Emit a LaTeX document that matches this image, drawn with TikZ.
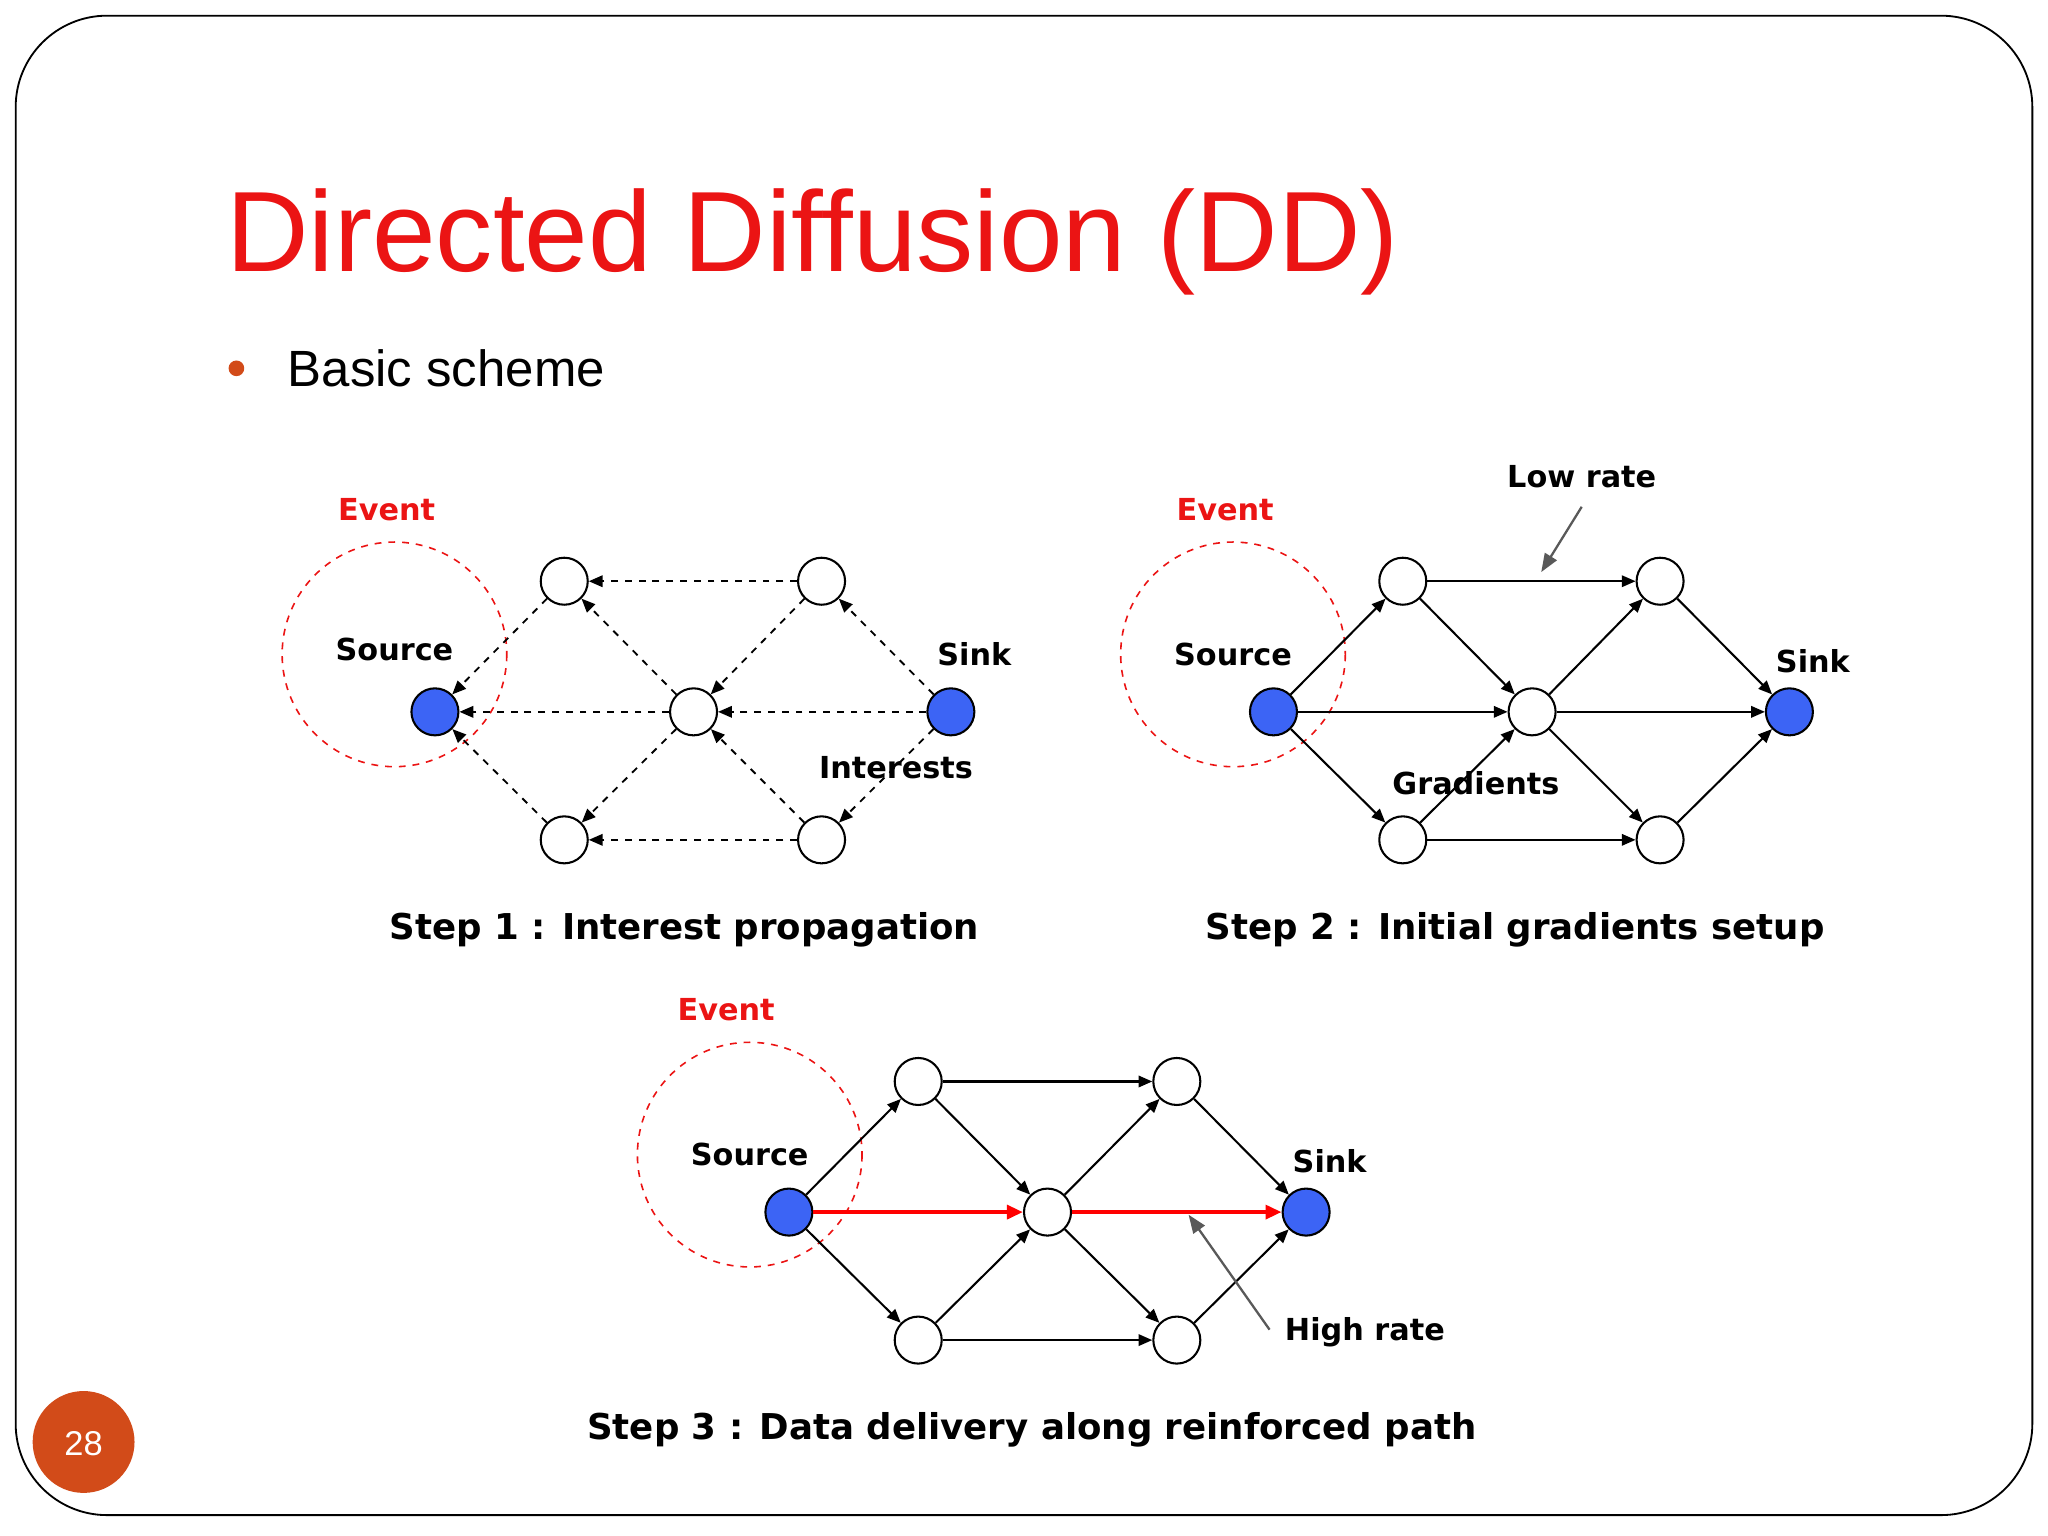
\documentclass[tikz,border=0pt]{standalone}
\usepackage{fontspec}
\setmainfont{Liberation Sans}
\newfontfamily\lbl{DejaVu Sans}
\usetikzlibrary{arrows.meta}
\definecolor{titlered}{RGB}{235,20,20}
\definecolor{badge}{RGB}{210,75,25}
\definecolor{nodeblue}{RGB}{60,100,245}
\begin{document}
\begin{tikzpicture}[x=0.02cm,y=-0.02cm,
  wn/.style={circle,draw,line width=0.9pt,fill=white,minimum size=0.72cm,inner sep=0pt},
  bn/.style={wn,fill=nodeblue},
  lab/.style={font=\lbl\bfseries\fontsize{13.2}{15}\selectfont},
  steplab/.style={font=\lbl\bfseries\fontsize{15.5}{18}\selectfont},
  ev/.style={lab,text=titlered},
  evc/.style={draw=titlered,dashed,line width=0.7pt},
  da/.style={draw,dashed,line width=0.8pt,-{Triangle[length=6pt,width=5pt]}},
  sa/.style={draw,line width=0.9pt,-{Triangle[length=6pt,width=5pt]}},
  ra/.style={draw=red,line width=1.8pt,-{Triangle[length=7pt,width=6pt]}},
  ga/.style={draw=gray!70!black,line width=1pt,-{Triangle[length=8pt,width=6pt]}}]
\useasboundingbox (0,0) rectangle (1568,1176);
\draw[line width=0.8pt,rounded corners=1.4cm] (12,12) rectangle (1556,1160);
\node[anchor=base west,text=titlered,font=\fontsize{49.8}{56}\selectfont,inner sep=0] (title) at (173,208) {Directed Diffusion (DD)};
\fill[badge] (181,282) circle (6);
\node[anchor=west,font=\fontsize{22.2}{25}\selectfont,inner sep=0] (bs) at (220,282) {Basic scheme};
\fill[badge] (64,1104) circle (39);
\node[text=white,font=\fontsize{15}{17}\selectfont] (pg) at (64,1105) {28};

% Step 1
\draw[evc] (302,501) circle (86);
\node[bn] (s1) at (333,545) {};
\node[wn] (a1) at (432,445) {};
\node[wn] (b1) at (629,445) {};
\node[wn] (c1) at (531,545) {};
\node[wn] (d1) at (432,643) {};
\node[wn] (e1) at (629,643) {};
\node[bn] (k1) at (728,545) {};
\path[da] (b1)--(a1); \path[da] (c1)--(a1); \path[da] (b1)--(c1);
\path[da] (k1)--(b1); \path[da] (k1)--(c1); \path[da] (c1)--(s1);
\path[da] (a1)--(s1); \path[da] (d1)--(s1); \path[da] (c1)--(d1);
\path[da] (e1)--(d1); \path[da] (e1)--(c1); \path[da] (k1)--(e1);
\node[ev] (ev1) at (296,390) {Event};
\node[lab] (so1) at (302,497) {Source};
\node[lab] (si1) at (746,501) {Sink};
\node[lab] (in1) at (686,588) {Interests};
\node[steplab] (st1) at (524,712) {Step 1 : Interest propagation};

% Step 2
\draw[evc] (944,501) circle (86);
\node[bn] (s2) at (975,545) {};
\node[wn] (a2) at (1074,445) {};
\node[wn] (b2) at (1271,445) {};
\node[wn] (c2) at (1173,545) {};
\node[wn] (d2) at (1074,643) {};
\node[wn] (e2) at (1271,643) {};
\node[bn] (k2) at (1370,545) {};
\path[sa] (s2)--(a2); \path[sa] (s2)--(c2); \path[sa] (s2)--(d2);
\path[sa] (a2)--(b2); \path[sa] (a2)--(c2); \path[sa] (d2)--(c2);
\path[sa] (d2)--(e2); \path[sa] (c2)--(b2); \path[sa] (c2)--(k2);
\path[sa] (c2)--(e2); \path[sa] (b2)--(k2); \path[sa] (e2)--(k2);
\node[ev] (ev2) at (938,390) {Event};
\node[lab] (so2) at (944,501) {Source};
\node[lab] (si2) at (1388,506) {Sink};
\node[lab] (gr2) at (1130,600) {Gradients};
\node[lab] (lr2) at (1211,365) {Low rate};
\coordinate (lrt) at (1180,438);
\path[ga] (1211,388)--(lrt);
\node[steplab] (st2) at (1160,712) {Step 2 : Initial gradients setup};

% Step 3
\draw[evc] (574,884) circle (86);
\node[bn] (s3) at (604,928) {};
\node[wn] (a3) at (703,828) {};
\node[wn] (b3) at (901,828) {};
\node[wn] (c3) at (802,928) {};
\node[wn] (d3) at (703,1026) {};
\node[wn] (e3) at (901,1026) {};
\node[bn] (k3) at (1000,928) {};
\path[sa] (s3)--(a3); \path[sa] (s3)--(d3);
\path[sa] (a3)--(b3); \path[sa] (a3)--(c3); \path[sa] (d3)--(c3);
\path[sa] (d3)--(e3); \path[sa] (c3)--(b3);
\path[sa] (c3)--(e3); \path[sa] (b3)--(k3); \path[sa] (e3)--(k3);
\path[ra] (s3)--(c3); \path[ra] (c3)--(k3);
\node[ev] (ev3) at (556,773) {Event};
\node[lab] (so3) at (574,884) {Source};
\node[lab] (si3) at (1018,889) {Sink};
\node[lab] (hr3) at (1045,1020) {High rate};
\coordinate (hrt) at (910,930);
\path[ga] (972,1018)--(hrt);
\node[steplab] (st3) at (790,1095) {Step 3 : Data delivery along reinforced path};
\end{tikzpicture}
\end{document}
